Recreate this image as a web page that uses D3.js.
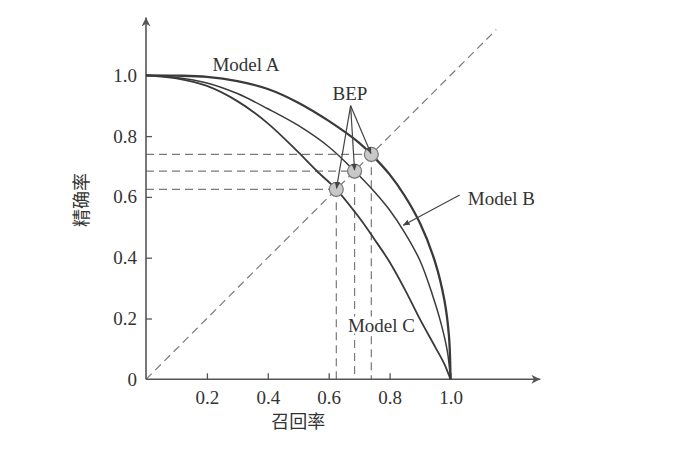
<!DOCTYPE html>
<html><head><meta charset="utf-8">
<script src="https://cdn.jsdelivr.net/npm/d3@7"></script>
<style>
html,body{margin:0;padding:0;background:#fff;}
text{font-family:"Liberation Serif","Times New Roman",serif;fill:#333;}
.cjk{font-family:"Noto Sans CJK SC",sans-serif;}
</style></head>
<body>
<svg id="chart" width="673" height="457"></svg>
<script>
// ---- data ----
const modelNames = ["Model A", "Model B", "Model C"];
const modelA_recall    = [0, 0.1, 0.2, 0.3, 0.4, 0.5, 0.6, 0.7, 0.74, 0.8, 0.85, 0.9, 0.95, 0.98, 0.995, 1.0];
const modelA_precision = [1.0, 0.999, 0.995, 0.981, 0.955, 0.91, 0.85, 0.778, 0.74, 0.674, 0.603, 0.513, 0.384, 0.26, 0.142, 0];
const modelB_recall    = [0, 0.1, 0.2, 0.3, 0.4, 0.5, 0.6, 0.685, 0.75, 0.8, 0.85, 0.9, 0.94, 0.97, 0.99, 1.0];
const modelB_precision = [1.0, 0.993, 0.975, 0.94, 0.89, 0.835, 0.765, 0.685, 0.617, 0.557, 0.482, 0.39, 0.28, 0.18, 0.09, 0];
const modelC_recall    = [0, 0.1, 0.2, 0.3, 0.4, 0.5, 0.56, 0.625, 0.7, 0.75, 0.8, 0.85, 0.9, 0.95, 0.98, 1.0];
const modelC_precision = [1.0, 0.99, 0.965, 0.915, 0.842, 0.747, 0.686, 0.625, 0.532, 0.461, 0.386, 0.296, 0.197, 0.106, 0.05, 0];
const bepValues = [0.74, 0.685, 0.625];   // A, B, C
const xTickValues = [0.2, 0.4, 0.6, 0.8, 1.0];
const xTickLabels = ["0.2", "0.4", "0.6", "0.8", "1.0"];
const yTickValues = [0, 0.2, 0.4, 0.6, 0.8, 1.0];
const yTickLabels = ["0", "0.2", "0.4", "0.6", "0.8", "1.0"];
const xTitle = "召回率";
const yTitle = "精确率";
const bepLabel = "BEP";

// ---- scales ----
const svg = d3.select("#chart");
const x = d3.scaleLinear().domain([0, 1]).range([146, 450.5]);
const y = d3.scaleLinear().domain([0, 1]).range([379.3, 75.3]);

const defs = svg.append("defs");
defs.append("marker").attr("id","ah").attr("viewBox","0 0 10 10")
  .attr("refX",9).attr("refY",5).attr("markerWidth",7).attr("markerHeight",7)
  .attr("markerUnits","userSpaceOnUse").attr("orient","auto")
  .append("path").attr("d","M0,1 L10,5 L0,9 Z").attr("fill","#444");
defs.append("marker").attr("id","axh").attr("viewBox","0 0 10 10")
  .attr("refX",10).attr("refY",5).attr("markerWidth",14).attr("markerHeight",9)
  .attr("markerUnits","userSpaceOnUse").attr("orient","auto")
  .append("path").attr("d","M0,0 L10,5 L0,10 L3,5 Z").attr("fill","#555");

// ---- dashed guide lines ----
const dashColor = "#7a7a7a";
svg.append("line")
  .attr("x1", x(0)).attr("y1", y(0)).attr("x2", x(1.15)).attr("y2", y(1.15))
  .attr("stroke", dashColor).attr("stroke-width", 1.2).attr("stroke-dasharray", "8,5");
bepValues.forEach(v => {
  svg.append("line").attr("x1", x(0)).attr("y1", y(v)).attr("x2", x(v)).attr("y2", y(v))
    .attr("stroke", dashColor).attr("stroke-width", 1.2).attr("stroke-dasharray", "8,5");
  svg.append("line").attr("x1", x(v)).attr("y1", y(v)).attr("x2", x(v)).attr("y2", y(0))
    .attr("stroke", dashColor).attr("stroke-width", 1.2).attr("stroke-dasharray", "8,5");
});

// ---- axes ----
const xAxis = d3.axisBottom(x).tickValues(xTickValues)
  .tickFormat((d, i) => xTickLabels[i]).tickSizeInner(-6).tickSizeOuter(0).tickPadding(11);
const yAxis = d3.axisLeft(y).tickValues(yTickValues)
  .tickFormat((d, i) => yTickLabels[i]).tickSizeInner(-6).tickSizeOuter(0).tickPadding(9);
const gx = svg.append("g").attr("transform", `translate(0,${y(0)})`).call(xAxis);
const gy = svg.append("g").attr("transform", `translate(${x(0)},0)`).call(yAxis);
[gx, gy].forEach(g => {
  g.select(".domain").remove();
  g.selectAll(".tick line").attr("stroke", "#555").attr("stroke-width", 1.3);
  g.selectAll(".tick text").attr("font-size", 19).attr("fill", "#333")
    .style("font-family", "'Liberation Serif', serif");
});
gy.select(".tick line").remove();
// axis lines with arrows
svg.append("line").attr("x1", x(0)).attr("y1", y(0)).attr("x2", x(1.295)).attr("y2", y(0))
  .attr("stroke", "#555").attr("stroke-width", 1.6).attr("marker-end", "url(#axh)");
svg.append("line").attr("x1", x(0)).attr("y1", y(0)).attr("x2", x(0)).attr("y2", y(1.19))
  .attr("stroke", "#555").attr("stroke-width", 1.6).attr("marker-end", "url(#axh)");

// axis titles
svg.append("text").attr("class", "cjk").attr("x", (x(0.4) + x(0.6)) / 2).attr("y", 428)
  .attr("text-anchor", "middle").attr("font-size", 18).text(xTitle);
svg.append("text").attr("class", "cjk")
  .attr("transform", `translate(88,${y(0.59)}) rotate(-90)`)
  .attr("text-anchor", "middle").attr("font-size", 18).text(yTitle);

// ---- curves ----
const line = d3.line().x(d => x(d[0])).y(d => y(d[1])).curve(d3.curveCatmullRom.alpha(0.5));
const series = [
  {r: modelA_recall, p: modelA_precision, w: 2.3},
  {r: modelB_recall, p: modelB_precision, w: 1.5},
  {r: modelC_recall, p: modelC_precision, w: 1.8}
];
series.forEach(s => {
  svg.append("path").datum(s.r.map((r, i) => [r, s.p[i]]))
    .attr("d", line).attr("fill", "none").attr("stroke", "#3a3a3a").attr("stroke-width", s.w);
});

// ---- Model labels ----
svg.append("text").attr("x", x(0.218)).attr("y", y(1.015)).attr("font-size", 19).text(modelNames[0]);
svg.append("text").attr("x", x(1.057)).attr("y", y(0.573)).attr("font-size", 19).text(modelNames[1]);
svg.append("line").attr("x1", x(1.03)).attr("y1", y(0.606)).attr("x2", x(0.845)).attr("y2", y(0.507))
  .attr("stroke", "#444").attr("stroke-width", 1.2).attr("marker-end", "url(#ah)");
const tc = svg.append("text").attr("x", x(0.663)).attr("y", y(0.157)).attr("font-size", 19).text(modelNames[2]);
const bb = tc.node().getBBox();
svg.insert("rect", () => tc.node()).attr("x", bb.x).attr("y", bb.y + 2).attr("width", bb.width - 12)
  .attr("height", bb.height - 4).attr("fill", "#fff");

// ---- BEP points & arrows ----
svg.append("text").attr("x", x(0.67)).attr("y", y(0.919)).attr("text-anchor", "middle")
  .attr("font-size", 19).text(bepLabel);
const arrowStart = [0.672, 0.90];
bepValues.forEach(v => {
  svg.append("circle").attr("cx", x(v)).attr("cy", y(v)).attr("r", 7)
    .attr("fill", "#c8c8c8").attr("stroke", "#777").attr("stroke-width", 1.2);
});
bepValues.forEach(v => {
  const sx = x(arrowStart[0]), sy = y(arrowStart[1]);
  const ex = x(v), ey = y(v);
  const dx = ex - sx, dy = ey - sy, L = Math.hypot(dx, dy);
  const tx = ex - dx / L * 1, ty = ey - dy / L * 1;
  svg.append("line").attr("x1", sx).attr("y1", sy).attr("x2", tx).attr("y2", ty)
    .attr("stroke", "#444").attr("stroke-width", 1.2).attr("marker-end", "url(#ah)");
});
</script>
</body></html>
